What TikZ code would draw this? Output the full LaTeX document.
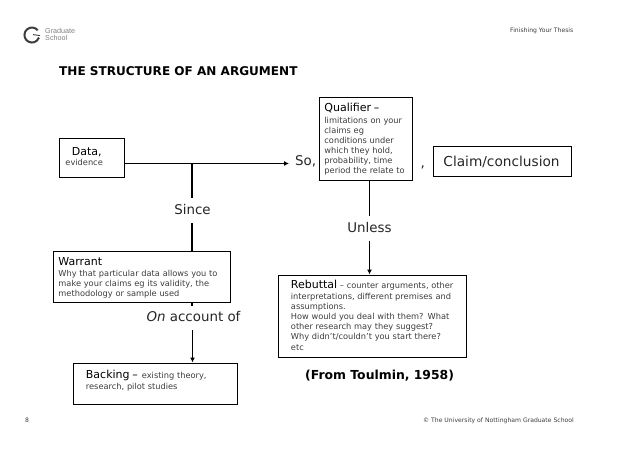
\documentclass[tikz,border=0pt]{standalone}
\usepackage{fontspec}
\setmainfont{DejaVu Sans}
\newfontfamily\logofont{Liberation Sans}
\usetikzlibrary{arrows.meta, positioning}
\definecolor{mygrey}{RGB}{60,60,60}
\newcommand{\headsize}{\fontsize{11}{10}\selectfont\color{black}}
% pad, width, room below, text
\newcommand{\inbox}[4]{\hspace*{#1}\parbox[t]{#2}{#4\par\vspace{#3}}}
\tikzset{
    argbox/.style={draw, line width=0.9pt, anchor=north west, inner sep=0pt, font=\fontsize{8.25}{10}\selectfont, text=mygrey, align=left},
    linktext/.style={font=\fontsize{13.4}{14}\selectfont, inner sep=0pt, text=black!85},
    pagetext/.style={font=\fontsize{6.1}{7}\selectfont, text=mygrey, inner sep=0pt},
    link/.style={line width=1.4pt},
    linkarrow/.style={line width=1.4pt, -{Latex[length=5pt,width=5pt]}}
}
\begin{document}
\begin{tikzpicture}[x=1pt,y=-1pt]
    \useasboundingbox (0,0) rectangle (638,452);

    % logo
    \node[anchor=west,inner sep=0pt,font=\logofont\fontsize{7.2}{7.2}\selectfont,text=gray,align=left] (logotext) at (45,34.5) {Graduate\\School};
    \draw[line width=2pt,mygrey] (37.7,30.2) arc (-40:-340:7.5) coordinate (logoend);
    \draw[line width=0.9pt,mygrey] (logoend) ++(1,-2) -- ++(-7,-1);

    % page header and footer
    \node[pagetext,anchor=east] (pagetitle) at (573.5,30.5) {Finishing Your Thesis};
    \node[pagetext,anchor=west] (pagenum) at (25,420.5) {8};
    \node[pagetext,anchor=east] (copyright) at (574,420.5) {© The University of Nottingham Graduate School};

    % title
    \node[anchor=west,inner sep=0pt,font=\bfseries\fontsize{12.05}{14}\selectfont] (title) at (59,71) {THE STRUCTURE OF AN ARGUMENT};

    % Boxes
    \node[argbox,minimum width=65pt,minimum height=39pt,text width=65pt] (data) at (58.5,138) {\inbox{6.5pt}{58pt}{2pt}{\hspace*{6.5pt}{\headsize Data,}\\\hspace*{0pt}evidence}};
    \node[argbox,minimum width=93pt,minimum height=82pt,text width=93pt] (qualifier) at (318.5,97.5) {\inbox{5.5pt}{87pt}{-1pt}{{\headsize Qualifier –}\\[2pt]limitations on your\\claims eg\\conditions under\\which they hold,\\probability, time\\period the relate to}};
    \node[argbox,minimum width=137.5pt,minimum height=30pt,text width=137.5pt,font=\fontsize{13.7}{14}\selectfont,text=black!85] (claim) at (433,146) {\hspace*{10pt}Claim/conclusion};
    \node[argbox,minimum width=177pt,minimum height=51pt,text width=177pt] (warrant) at (52.5,250.5) {\inbox{5.5pt}{171pt}{-2.5pt}{{\headsize Warrant}\\[1pt]Why that particular data allows you to\\make your claims eg its validity, the\\methodology or sample used}};
    \node[argbox,minimum width=164pt,minimum height=41pt,text width=164pt] (backing) at (72.5,362.5) {\inbox{13pt}{150pt}{6pt}{{\headsize Backing –}\hspace{4pt}existing theory,\\[1pt]research, pilot studies}};
    \node[argbox,minimum width=188pt,minimum height=82pt,text width=188pt] (rebuttal) at (277.5,274.5) {\inbox{13pt}{174pt}{1pt}{{\headsize Rebuttal} – counter arguments, other\\[1pt]interpretations, different premises and\\assumptions.\\How would you deal with them? What\\other research may they suggest?\\Why didn't/couldn't you start there?\\[1pt]etc}};

    % Link words
    \node[linktext,anchor=west] (so) at (295,161.5) {So,};
    \node[linktext,anchor=west] (comma) at (420.5,167) {,};
    \node[linktext] (since) at (192.5,209.5) {Since};
    \node[linktext] (unless) at (369.5,227.5) {Unless};
    \node[linktext] (onaccount) at (193.5,317) {\textit{On} account of};
    \node[anchor=west,inner sep=0pt,font=\bfseries\fontsize{12.4}{14}\selectfont] (toulmin) at (305,376) {(From Toulmin, 1958)};

    % Arrows
    \coordinate (split) at (192,163.5);
    \draw[linkarrow] (data.east |- split) -- ([xshift=-6pt]so.west |- split);
    \draw[link] (split) -- ([yshift=6.5pt]since.north -| split);
    \draw[link] ([yshift=-8pt]since.south -| split) -- (warrant.north -| split);
    \draw[link] (warrant.south -| split) -- ++(0,3.5);
    \draw[linkarrow] ([xshift=0.5pt,yshift=-8pt]onaccount.south -| split) -- ([xshift=0.5pt]backing.north -| split);
    \draw[link] (qualifier.south -| unless) -- ([yshift=6pt]unless.north);
    \draw[linkarrow] ([yshift=-8pt]unless.south) -- (rebuttal.north -| unless);
\end{tikzpicture}
\end{document}
